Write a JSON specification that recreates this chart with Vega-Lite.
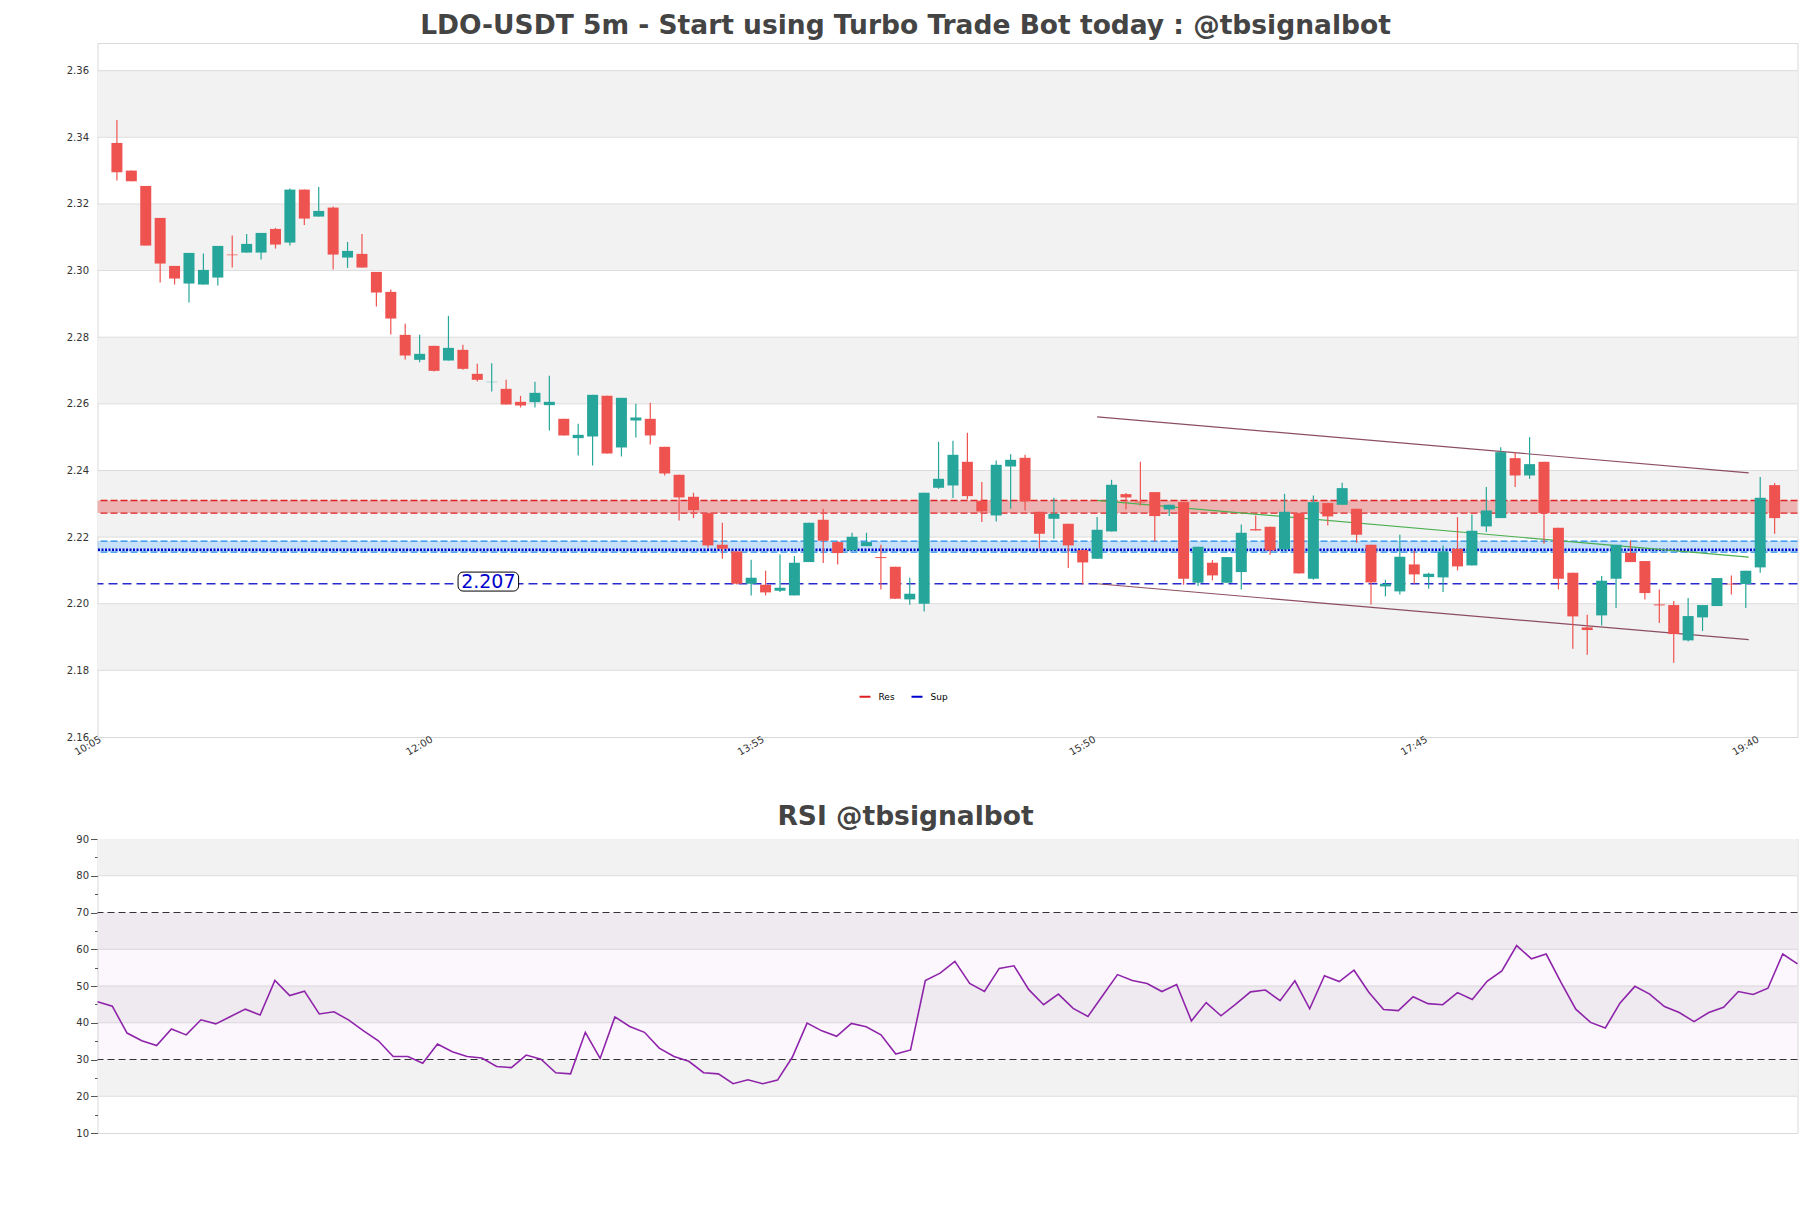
{
  "$schema": "https://vega.github.io/schema/vega-lite/v6.json",
  "background": "white",
  "padding": {"left": 65.5, "top": 12, "right": 10, "bottom": 10},
  "config": {
    "font": "DejaVu Sans",
    "view": {"stroke": "#d9d9d9"},
    "axis": {"labelFont": "DejaVu Sans", "labelFontSize": 10, "labelColor": "#333333", "labelOverlap": false}
  },
  "bounds": "flush",
  "spacing": 102,
  "resolve": {"scale": {"x": "independent", "y": "independent", "color": "independent"}},
  "datasets": {
    "candles": [
      {"t":"2024-01-01T10:10","o":2.3383,"h":2.3452,"l":2.3270,"c":2.3295},
      {"t":"2024-01-01T10:15","o":2.3300,"h":2.3300,"l":2.3268,"c":2.3268},
      {"t":"2024-01-01T10:20","o":2.3254,"h":2.3254,"l":2.3075,"c":2.3075},
      {"t":"2024-01-01T10:25","o":2.3158,"h":2.3158,"l":2.2964,"c":2.3021},
      {"t":"2024-01-01T10:30","o":2.3014,"h":2.3014,"l":2.2958,"c":2.2976},
      {"t":"2024-01-01T10:35","o":2.2961,"h":2.3053,"l":2.2904,"c":2.3053},
      {"t":"2024-01-01T10:40","o":2.2958,"h":2.3051,"l":2.2958,"c":2.3002},
      {"t":"2024-01-01T10:45","o":2.2979,"h":2.3074,"l":2.2955,"c":2.3074},
      {"t":"2024-01-01T10:50","o":2.3048,"h":2.3105,"l":2.3009,"c":2.3046},
      {"t":"2024-01-01T10:55","o":2.3054,"h":2.3110,"l":2.3054,"c":2.3080},
      {"t":"2024-01-01T11:00","o":2.3054,"h":2.3113,"l":2.3033,"c":2.3113},
      {"t":"2024-01-01T11:05","o":2.3125,"h":2.3128,"l":2.3066,"c":2.3078},
      {"t":"2024-01-01T11:10","o":2.3084,"h":2.3246,"l":2.3075,"c":2.3243},
      {"t":"2024-01-01T11:15","o":2.3243,"h":2.3243,"l":2.3137,"c":2.3156},
      {"t":"2024-01-01T11:20","o":2.3162,"h":2.3251,"l":2.3162,"c":2.3179},
      {"t":"2024-01-01T11:25","o":2.3189,"h":2.3192,"l":2.3003,"c":2.3048},
      {"t":"2024-01-01T11:30","o":2.3039,"h":2.3086,"l":2.3008,"c":2.3059},
      {"t":"2024-01-01T11:35","o":2.3050,"h":2.3110,"l":2.3009,"c":2.3009},
      {"t":"2024-01-01T11:40","o":2.2996,"h":2.2996,"l":2.2892,"c":2.2934},
      {"t":"2024-01-01T11:45","o":2.2936,"h":2.2943,"l":2.2808,"c":2.2856},
      {"t":"2024-01-01T11:50","o":2.2807,"h":2.2840,"l":2.2733,"c":2.2745},
      {"t":"2024-01-01T11:55","o":2.2732,"h":2.2807,"l":2.2725,"c":2.2750},
      {"t":"2024-01-01T12:00","o":2.2774,"h":2.2774,"l":2.2697,"c":2.2699},
      {"t":"2024-01-01T12:05","o":2.2730,"h":2.2864,"l":2.2730,"c":2.2768},
      {"t":"2024-01-01T12:10","o":2.2762,"h":2.2777,"l":2.2702,"c":2.2705},
      {"t":"2024-01-01T12:15","o":2.2690,"h":2.2720,"l":2.2667,"c":2.2672},
      {"t":"2024-01-01T12:20","o":2.2665,"h":2.2722,"l":2.2637,"c":2.2666},
      {"t":"2024-01-01T12:25","o":2.2645,"h":2.2672,"l":2.2598,"c":2.2598},
      {"t":"2024-01-01T12:30","o":2.2606,"h":2.2624,"l":2.2589,"c":2.2595},
      {"t":"2024-01-01T12:35","o":2.2605,"h":2.2666,"l":2.2589,"c":2.2633},
      {"t":"2024-01-01T12:40","o":2.2596,"h":2.2684,"l":2.2520,"c":2.2606},
      {"t":"2024-01-01T12:45","o":2.2555,"h":2.2555,"l":2.2505,"c":2.2505},
      {"t":"2024-01-01T12:50","o":2.2497,"h":2.2540,"l":2.2445,"c":2.2507},
      {"t":"2024-01-01T12:55","o":2.2502,"h":2.2627,"l":2.2415,"c":2.2627},
      {"t":"2024-01-01T13:00","o":2.2624,"h":2.2624,"l":2.2451,"c":2.2451},
      {"t":"2024-01-01T13:05","o":2.2469,"h":2.2618,"l":2.2442,"c":2.2618},
      {"t":"2024-01-01T13:10","o":2.2550,"h":2.2600,"l":2.2499,"c":2.2559},
      {"t":"2024-01-01T13:15","o":2.2555,"h":2.2603,"l":2.2478,"c":2.2505},
      {"t":"2024-01-01T13:20","o":2.2471,"h":2.2471,"l":2.2385,"c":2.2391},
      {"t":"2024-01-01T13:25","o":2.2387,"h":2.2387,"l":2.2250,"c":2.2319},
      {"t":"2024-01-01T13:30","o":2.2321,"h":2.2333,"l":2.2257,"c":2.2281},
      {"t":"2024-01-01T13:35","o":2.2272,"h":2.2272,"l":2.2168,"c":2.2175},
      {"t":"2024-01-01T13:40","o":2.2177,"h":2.2243,"l":2.2135,"c":2.2165},
      {"t":"2024-01-01T13:45","o":2.2157,"h":2.2157,"l":2.2058,"c":2.2060},
      {"t":"2024-01-01T13:50","o":2.2060,"h":2.2132,"l":2.2025,"c":2.2078},
      {"t":"2024-01-01T13:55","o":2.2057,"h":2.2099,"l":2.2025,"c":2.2034},
      {"t":"2024-01-01T14:00","o":2.2039,"h":2.2148,"l":2.2035,"c":2.2048},
      {"t":"2024-01-01T14:05","o":2.2025,"h":2.2143,"l":2.2025,"c":2.2123},
      {"t":"2024-01-01T14:10","o":2.2125,"h":2.2243,"l":2.2125,"c":2.2243},
      {"t":"2024-01-01T14:15","o":2.2252,"h":2.2285,"l":2.2122,"c":2.2189},
      {"t":"2024-01-01T14:20","o":2.2185,"h":2.2188,"l":2.2118,"c":2.2152},
      {"t":"2024-01-01T14:25","o":2.2160,"h":2.2213,"l":2.2160,"c":2.2201},
      {"t":"2024-01-01T14:30","o":2.2173,"h":2.2213,"l":2.2173,"c":2.2185},
      {"t":"2024-01-01T14:35","o":2.2140,"h":2.2177,"l":2.2043,"c":2.2137},
      {"t":"2024-01-01T14:40","o":2.2111,"h":2.2111,"l":2.2015,"c":2.2015},
      {"t":"2024-01-01T14:45","o":2.2013,"h":2.2078,"l":2.1997,"c":2.2030},
      {"t":"2024-01-01T14:50","o":2.2000,"h":2.2333,"l":2.1977,"c":2.2333},
      {"t":"2024-01-01T14:55","o":2.2348,"h":2.2486,"l":2.2345,"c":2.2375},
      {"t":"2024-01-01T15:00","o":2.2355,"h":2.2489,"l":2.2317,"c":2.2447},
      {"t":"2024-01-01T15:05","o":2.2426,"h":2.2513,"l":2.2313,"c":2.2323},
      {"t":"2024-01-01T15:10","o":2.2308,"h":2.2365,"l":2.2245,"c":2.2277},
      {"t":"2024-01-01T15:15","o":2.2265,"h":2.2430,"l":2.2247,"c":2.2417},
      {"t":"2024-01-01T15:20","o":2.2412,"h":2.2449,"l":2.2285,"c":2.2432},
      {"t":"2024-01-01T15:25","o":2.2438,"h":2.2447,"l":2.2280,"c":2.2307},
      {"t":"2024-01-01T15:30","o":2.2276,"h":2.2276,"l":2.2165,"c":2.2210},
      {"t":"2024-01-01T15:35","o":2.2255,"h":2.2318,"l":2.2195,"c":2.2270},
      {"t":"2024-01-01T15:40","o":2.2240,"h":2.2240,"l":2.2107,"c":2.2175},
      {"t":"2024-01-01T15:45","o":2.2161,"h":2.2161,"l":2.2057,"c":2.2124},
      {"t":"2024-01-01T15:50","o":2.2135,"h":2.2260,"l":2.2135,"c":2.2222},
      {"t":"2024-01-01T15:55","o":2.2217,"h":2.2372,"l":2.2217,"c":2.2357},
      {"t":"2024-01-01T16:00","o":2.2329,"h":2.2332,"l":2.2283,"c":2.2319},
      {"t":"2024-01-01T16:05","o":2.2306,"h":2.2426,"l":2.2295,"c":2.2304},
      {"t":"2024-01-01T16:10","o":2.2335,"h":2.2335,"l":2.2187,"c":2.2263},
      {"t":"2024-01-01T16:15","o":2.2283,"h":2.2297,"l":2.2263,"c":2.2297},
      {"t":"2024-01-01T16:20","o":2.2305,"h":2.2305,"l":2.2057,"c":2.2075},
      {"t":"2024-01-01T16:25","o":2.2063,"h":2.2171,"l":2.2053,"c":2.2171},
      {"t":"2024-01-01T16:30","o":2.2123,"h":2.2131,"l":2.2070,"c":2.2085},
      {"t":"2024-01-01T16:35","o":2.2063,"h":2.2140,"l":2.2063,"c":2.2140},
      {"t":"2024-01-01T16:40","o":2.2095,"h":2.2238,"l":2.2043,"c":2.2213},
      {"t":"2024-01-01T16:45","o":2.2224,"h":2.2265,"l":2.2220,"c":2.2220},
      {"t":"2024-01-01T16:50","o":2.2231,"h":2.2231,"l":2.2147,"c":2.2160},
      {"t":"2024-01-01T16:55","o":2.2163,"h":2.2330,"l":2.2163,"c":2.2276},
      {"t":"2024-01-01T17:00","o":2.2272,"h":2.2272,"l":2.2091,"c":2.2091},
      {"t":"2024-01-01T17:05","o":2.2075,"h":2.2325,"l":2.2072,"c":2.2305},
      {"t":"2024-01-01T17:10","o":2.2302,"h":2.2302,"l":2.2235,"c":2.2262},
      {"t":"2024-01-01T17:15","o":2.2297,"h":2.2363,"l":2.2297,"c":2.2347},
      {"t":"2024-01-01T17:20","o":2.2285,"h":2.2285,"l":2.2183,"c":2.2207},
      {"t":"2024-01-01T17:25","o":2.2177,"h":2.2177,"l":2.1998,"c":2.2064},
      {"t":"2024-01-01T17:30","o":2.2052,"h":2.2072,"l":2.2022,"c":2.2060},
      {"t":"2024-01-01T17:35","o":2.2037,"h":2.2207,"l":2.2028,"c":2.2141},
      {"t":"2024-01-01T17:40","o":2.2118,"h":2.2160,"l":2.2060,"c":2.2088},
      {"t":"2024-01-01T17:45","o":2.2080,"h":2.2093,"l":2.2045,"c":2.2090},
      {"t":"2024-01-01T17:50","o":2.2079,"h":2.2175,"l":2.2035,"c":2.2157},
      {"t":"2024-01-01T17:55","o":2.2165,"h":2.2260,"l":2.2100,"c":2.2112},
      {"t":"2024-01-01T18:00","o":2.2115,"h":2.2268,"l":2.2115,"c":2.2219},
      {"t":"2024-01-01T18:05","o":2.2232,"h":2.2350,"l":2.2215,"c":2.2280},
      {"t":"2024-01-01T18:10","o":2.2257,"h":2.2470,"l":2.2257,"c":2.2455},
      {"t":"2024-01-01T18:15","o":2.2437,"h":2.2455,"l":2.2350,"c":2.2385},
      {"t":"2024-01-01T18:20","o":2.2385,"h":2.2500,"l":2.2375,"c":2.2419},
      {"t":"2024-01-01T18:25","o":2.2426,"h":2.2426,"l":2.2180,"c":2.2272},
      {"t":"2024-01-01T18:30","o":2.2228,"h":2.2228,"l":2.2043,"c":2.2075},
      {"t":"2024-01-01T18:35","o":2.2093,"h":2.2093,"l":2.1865,"c":2.1962},
      {"t":"2024-01-01T18:40","o":2.1929,"h":2.1967,"l":2.1847,"c":2.1921},
      {"t":"2024-01-01T18:45","o":2.1965,"h":2.2083,"l":2.1935,"c":2.2069},
      {"t":"2024-01-01T18:50","o":2.2075,"h":2.2177,"l":2.1987,"c":2.2177},
      {"t":"2024-01-01T18:55","o":2.2153,"h":2.2190,"l":2.2125,"c":2.2125},
      {"t":"2024-01-01T19:00","o":2.2128,"h":2.2128,"l":2.2013,"c":2.2032},
      {"t":"2024-01-01T19:05","o":2.1998,"h":2.2043,"l":2.1942,"c":2.1995},
      {"t":"2024-01-01T19:10","o":2.1996,"h":2.2008,"l":2.1823,"c":2.1909},
      {"t":"2024-01-01T19:15","o":2.1890,"h":2.2017,"l":2.1887,"c":2.1963},
      {"t":"2024-01-01T19:20","o":2.1959,"h":2.1996,"l":2.1918,"c":2.1996},
      {"t":"2024-01-01T19:25","o":2.1993,"h":2.2077,"l":2.1993,"c":2.2077},
      {"t":"2024-01-01T19:30","o":2.2060,"h":2.2085,"l":2.2028,"c":2.2058},
      {"t":"2024-01-01T19:35","o":2.2059,"h":2.2099,"l":2.1987,"c":2.2099},
      {"t":"2024-01-01T19:40","o":2.2109,"h":2.2380,"l":2.2093,"c":2.2318},
      {"t":"2024-01-01T19:45","o":2.2356,"h":2.2362,"l":2.2210,"c":2.2257}
    ],
    "rsi": [
      {"t":"2024-01-01T10:10","r":45.7},{"t":"2024-01-01T10:15","r":44.5},{"t":"2024-01-01T10:20","r":37.2},{"t":"2024-01-01T10:25","r":35.1},
      {"t":"2024-01-01T10:30","r":33.8},{"t":"2024-01-01T10:35","r":38.3},{"t":"2024-01-01T10:40","r":36.7},{"t":"2024-01-01T10:45","r":40.8},
      {"t":"2024-01-01T10:50","r":39.7},{"t":"2024-01-01T10:55","r":41.7},{"t":"2024-01-01T11:00","r":43.7},{"t":"2024-01-01T11:05","r":42.1},
      {"t":"2024-01-01T11:10","r":51.5},{"t":"2024-01-01T11:15","r":47.4},{"t":"2024-01-01T11:20","r":48.6},{"t":"2024-01-01T11:25","r":42.4},
      {"t":"2024-01-01T11:30","r":43.0},{"t":"2024-01-01T11:35","r":40.7},{"t":"2024-01-01T11:40","r":37.8},{"t":"2024-01-01T11:45","r":35.1},
      {"t":"2024-01-01T11:50","r":30.8},{"t":"2024-01-01T11:55","r":30.8},{"t":"2024-01-01T12:00","r":29.0},{"t":"2024-01-01T12:05","r":34.2},
      {"t":"2024-01-01T12:10","r":32.1},{"t":"2024-01-01T12:15","r":30.8},{"t":"2024-01-01T12:20","r":30.4},{"t":"2024-01-01T12:25","r":28.1},
      {"t":"2024-01-01T12:30","r":27.8},{"t":"2024-01-01T12:35","r":31.2},{"t":"2024-01-01T12:40","r":30.1},{"t":"2024-01-01T12:45","r":26.4},
      {"t":"2024-01-01T12:50","r":26.1},{"t":"2024-01-01T12:55","r":37.4},{"t":"2024-01-01T13:00","r":30.3},{"t":"2024-01-01T13:05","r":41.6},
      {"t":"2024-01-01T13:10","r":39.0},{"t":"2024-01-01T13:15","r":37.4},{"t":"2024-01-01T13:20","r":33.1},{"t":"2024-01-01T13:25","r":30.8},
      {"t":"2024-01-01T13:30","r":29.5},{"t":"2024-01-01T13:35","r":26.4},{"t":"2024-01-01T13:40","r":26.1},{"t":"2024-01-01T13:45","r":23.4},
      {"t":"2024-01-01T13:50","r":24.5},{"t":"2024-01-01T13:55","r":23.4},{"t":"2024-01-01T14:00","r":24.4},{"t":"2024-01-01T14:05","r":30.6},
      {"t":"2024-01-01T14:10","r":39.9},{"t":"2024-01-01T14:15","r":37.8},{"t":"2024-01-01T14:20","r":36.3},{"t":"2024-01-01T14:25","r":39.8},
      {"t":"2024-01-01T14:30","r":38.9},{"t":"2024-01-01T14:35","r":36.7},{"t":"2024-01-01T14:40","r":31.5},{"t":"2024-01-01T14:45","r":32.6},
      {"t":"2024-01-01T14:50","r":51.5},{"t":"2024-01-01T14:55","r":53.5},{"t":"2024-01-01T15:00","r":56.7},{"t":"2024-01-01T15:05","r":50.7},
      {"t":"2024-01-01T15:10","r":48.5},{"t":"2024-01-01T15:15","r":54.8},{"t":"2024-01-01T15:20","r":55.5},{"t":"2024-01-01T15:25","r":49.0},
      {"t":"2024-01-01T15:30","r":44.9},{"t":"2024-01-01T15:35","r":47.8},{"t":"2024-01-01T15:40","r":43.9},{"t":"2024-01-01T15:45","r":41.7},
      {"t":"2024-01-01T15:50","r":47.4},{"t":"2024-01-01T15:55","r":53.1},{"t":"2024-01-01T16:00","r":51.5},{"t":"2024-01-01T16:05","r":50.7},
      {"t":"2024-01-01T16:10","r":48.5},{"t":"2024-01-01T16:15","r":50.4},{"t":"2024-01-01T16:20","r":40.5},{"t":"2024-01-01T16:25","r":45.5},
      {"t":"2024-01-01T16:30","r":41.9},{"t":"2024-01-01T16:35","r":45.1},{"t":"2024-01-01T16:40","r":48.4},{"t":"2024-01-01T16:45","r":48.9},
      {"t":"2024-01-01T16:50","r":46.0},{"t":"2024-01-01T16:55","r":51.4},{"t":"2024-01-01T17:00","r":43.8},{"t":"2024-01-01T17:05","r":52.8},
      {"t":"2024-01-01T17:10","r":51.2},{"t":"2024-01-01T17:15","r":54.3},{"t":"2024-01-01T17:20","r":48.3},{"t":"2024-01-01T17:25","r":43.6},
      {"t":"2024-01-01T17:30","r":43.3},{"t":"2024-01-01T17:35","r":47.1},{"t":"2024-01-01T17:40","r":45.2},{"t":"2024-01-01T17:45","r":44.9},
      {"t":"2024-01-01T17:50","r":48.2},{"t":"2024-01-01T17:55","r":46.3},{"t":"2024-01-01T18:00","r":51.3},{"t":"2024-01-01T18:05","r":54.1},
      {"t":"2024-01-01T18:10","r":61.0},{"t":"2024-01-01T18:15","r":57.4},{"t":"2024-01-01T18:20","r":58.7},{"t":"2024-01-01T18:25","r":51.0},
      {"t":"2024-01-01T18:30","r":43.7},{"t":"2024-01-01T18:35","r":40.1},{"t":"2024-01-01T18:40","r":38.6},{"t":"2024-01-01T18:45","r":45.4},
      {"t":"2024-01-01T18:50","r":49.9},{"t":"2024-01-01T18:55","r":47.8},{"t":"2024-01-01T19:00","r":44.4},{"t":"2024-01-01T19:05","r":42.8},
      {"t":"2024-01-01T19:10","r":40.3},{"t":"2024-01-01T19:15","r":42.8},{"t":"2024-01-01T19:20","r":44.2},{"t":"2024-01-01T19:25","r":48.5},
      {"t":"2024-01-01T19:30","r":47.7},{"t":"2024-01-01T19:35","r":49.4},{"t":"2024-01-01T19:40","r":58.7},{"t":"2024-01-01T19:45","r":56.0}
    ]
  },
  "vconcat": [
    {
      "width": 1700,
      "height": 694,
      "title": {"text": "LDO-USDT 5m - Start using Turbo Trade Bot today : @tbsignalbot", "font": "DejaVu Sans", "fontSize": 26.5, "fontWeight": "bold", "color": "#444444", "anchor": "middle", "frame": "group", "dx": -42, "offset": -17, "baseline": "alphabetic"},
      "layer": [
        {
          "data": {"values": [{"lo": 2.18, "hi": 2.2}, {"lo": 2.22, "hi": 2.24}, {"lo": 2.26, "hi": 2.28}, {"lo": 2.3, "hi": 2.32}, {"lo": 2.34, "hi": 2.36}]},
          "mark": {"type": "rect", "color": "#f2f2f2"},
          "encoding": {
            "y": {"field": "lo", "type": "quantitative", "scale": {"domain": [2.16, 2.3683], "nice": false, "zero": false},
                  "axis": {"values": [2.16, 2.18, 2.2, 2.22, 2.24, 2.26, 2.28, 2.3, 2.32, 2.34, 2.36], "tickCount": 30, "format": ".2f", "grid": false, "ticks": false, "domain": false, "title": null, "labelPadding": 9, "labelFontSize": 10, "labelColor": "#333333", "labelOverlap": false}},
            "y2": {"field": "hi"}
          }
        },
        {
          "data": {"values": [{"p": 2.18}, {"p": 2.2}, {"p": 2.22}, {"p": 2.24}, {"p": 2.26}, {"p": 2.28}, {"p": 2.3}, {"p": 2.32}, {"p": 2.34}, {"p": 2.36}]},
          "mark": {"type": "rule", "color": "#dddddd", "strokeWidth": 1},
          "encoding": {"y": {"field": "p", "type": "quantitative", "scale": {"domain": [2.16, 2.3683], "nice": false, "zero": false}}}
        },
        {
          "data": {"values": [{"kind": "Res", "lo": 2.2272, "hi": 2.2310}]},
          "layer": [
            {"mark": {"type": "rect", "color": "#e02020", "opacity": 0.3},
             "encoding": {"y": {"field": "lo", "type": "quantitative", "scale": {"domain": [2.16, 2.3683], "nice": false, "zero": false}}, "y2": {"field": "hi"}}},
            {"mark": {"type": "rule", "strokeDash": [7, 3], "strokeWidth": 1.4},
             "encoding": {"y": {"field": "lo", "type": "quantitative", "scale": {"domain": [2.16, 2.3683], "nice": false, "zero": false}},
                          "color": {"field": "kind", "type": "nominal", "scale": {"domain": ["Res", "Sup"], "range": ["#e02020", "#0000cd"]},
                                    "legend": {"orient": "none", "legendX": 761, "legendY": 647, "direction": "horizontal", "title": null, "symbolType": "stroke", "symbolSize": 121, "symbolStrokeWidth": 2, "symbolDash": [1, 0], "labelFontSize": 9, "labelColor": "#000000", "labelOffset": 7, "columnPadding": 12, "padding": 0}}}},
            {"mark": {"type": "rule", "strokeDash": [7, 3], "strokeWidth": 1.4},
             "encoding": {"y": {"field": "hi", "type": "quantitative", "scale": {"domain": [2.16, 2.3683], "nice": false, "zero": false}},
                          "color": {"field": "kind", "type": "nominal"}}}
          ]
        },
        {
          "data": {"values": [{"lo": 2.2155, "hi": 2.2188}]},
          "layer": [
            {"mark": {"type": "rect", "color": "#1e88e5", "opacity": 0.25},
             "encoding": {"y": {"field": "lo", "type": "quantitative", "scale": {"domain": [2.16, 2.3683], "nice": false, "zero": false}}, "y2": {"field": "hi"}}},
            {"mark": {"type": "rule", "color": "#1e88e5", "strokeDash": [7, 3], "strokeWidth": 1.4},
             "encoding": {"y": {"field": "lo", "type": "quantitative", "scale": {"domain": [2.16, 2.3683], "nice": false, "zero": false}}}},
            {"mark": {"type": "rule", "color": "#1e88e5", "strokeDash": [7, 3], "strokeWidth": 1.4},
             "encoding": {"y": {"field": "hi", "type": "quantitative", "scale": {"domain": [2.16, 2.3683], "nice": false, "zero": false}}}}
          ]
        },
        {
          "data": {"values": [{"kind": "Sup", "p": 2.2162}]},
          "mark": {"type": "rule", "strokeDash": [2, 1.5], "strokeWidth": 2.5},
          "encoding": {"y": {"field": "p", "type": "quantitative", "scale": {"domain": [2.16, 2.3683], "nice": false, "zero": false}},
                       "color": {"field": "kind", "type": "nominal"}}
        },
        {
          "data": {"values": [{"p": 2.2060}]},
          "mark": {"type": "rule", "color": "#2a2ad0", "strokeDash": [9, 5], "strokeWidth": 1.4},
          "encoding": {"y": {"field": "p", "type": "quantitative", "scale": {"domain": [2.16, 2.3683], "nice": false, "zero": false}}}
        },
        {
          "data": {"values": [{"line": "up", "t": "2024-01-01T15:50", "p": 2.2561}, {"line": "up", "t": "2024-01-01T19:36", "p": 2.2393}, {"line": "down", "t": "2024-01-01T15:50", "p": 2.2060}, {"line": "down", "t": "2024-01-01T19:36", "p": 2.1892}]},
          "mark": {"type": "line", "color": "#7f3b4f", "strokeWidth": 1.2, "opacity": 0.9},
          "encoding": {
            "x": {"field": "t", "type": "temporal", "scale": {"domain": [{"year": 2024, "month": 1, "date": 1, "hours": 10, "minutes": 5}, {"year": 2024, "month": 1, "date": 1, "hours": 19, "minutes": 51, "seconds": 12}], "nice": false}},
            "y": {"field": "p", "type": "quantitative", "scale": {"domain": [2.16, 2.3683], "nice": false, "zero": false}},
            "detail": {"field": "line"}
          }
        },
        {
          "data": {"values": [{"t": "2024-01-01T15:50", "p": 2.2310}, {"t": "2024-01-01T19:36", "p": 2.2140}]},
          "mark": {"type": "line", "color": "#4caf50", "strokeWidth": 1.2},
          "encoding": {
            "x": {"field": "t", "type": "temporal"},
            "y": {"field": "p", "type": "quantitative", "scale": {"domain": [2.16, 2.3683], "nice": false, "zero": false}}
          }
        },
        {
          "data": {"name": "candles"},
          "mark": {"type": "rule", "strokeWidth": 1.2},
          "encoding": {
            "x": {"field": "t", "type": "temporal",
                  "scale": {"domain": [{"year": 2024, "month": 1, "date": 1, "hours": 10, "minutes": 5}, {"year": 2024, "month": 1, "date": 1, "hours": 19, "minutes": 51, "seconds": 12}], "nice": false},
                  "axis": {"values": [{"year": 2024, "month": 1, "date": 1, "hours": 10, "minutes": 5}, {"year": 2024, "month": 1, "date": 1, "hours": 12, "minutes": 0}, {"year": 2024, "month": 1, "date": 1, "hours": 13, "minutes": 55}, {"year": 2024, "month": 1, "date": 1, "hours": 15, "minutes": 50}, {"year": 2024, "month": 1, "date": 1, "hours": 17, "minutes": 45}, {"year": 2024, "month": 1, "date": 1, "hours": 19, "minutes": 40}],
                           "tickCount": 30, "format": "%H:%M", "labelAngle": -30, "labelAlign": "right", "labelBaseline": "top", "labelPadding": -3, "labelOffset": -5, "labelOverlap": false, "ticks": false, "domain": false, "grid": false, "title": null, "labelFontSize": 10, "labelColor": "#333333"}},
            "y": {"field": "l", "type": "quantitative", "scale": {"domain": [2.16, 2.3683], "nice": false, "zero": false}},
            "y2": {"field": "h"},
            "color": {"condition": {"test": "datum.c >= datum.o", "value": "#26a69a"}, "value": "#ef5350"}
          }
        },
        {
          "data": {"name": "candles"},
          "mark": {"type": "bar", "size": 11},
          "encoding": {
            "x": {"field": "t", "type": "temporal"},
            "y": {"field": "o", "type": "quantitative", "scale": {"domain": [2.16, 2.3683], "nice": false, "zero": false}},
            "y2": {"field": "c"},
            "color": {"condition": {"test": "datum.c >= datum.o", "value": "#26a69a"}, "value": "#ef5350"}
          }
        },
        {
          "data": {"values": [{"t1": "2024-01-01T12:08:20", "t2": "2024-01-01T12:29:20", "lo": 2.2038, "hi": 2.2095}]},
          "mark": {"type": "rect", "fill": "white", "stroke": "black", "strokeWidth": 1, "cornerRadius": 5},
          "encoding": {
            "x": {"field": "t1", "type": "temporal"},
            "x2": {"field": "t2"},
            "y": {"field": "lo", "type": "quantitative", "scale": {"domain": [2.16, 2.3683], "nice": false, "zero": false}},
            "y2": {"field": "hi"}
          }
        },
        {
          "data": {"values": [{"t": "2024-01-01T12:18:50", "p": 2.2066, "label": "2.207"}]},
          "mark": {"type": "text", "fontSize": 19, "color": "#0000cc", "align": "center", "baseline": "middle", "font": "DejaVu Sans"},
          "encoding": {
            "x": {"field": "t", "type": "temporal"},
            "y": {"field": "p", "type": "quantitative", "scale": {"domain": [2.16, 2.3683], "nice": false, "zero": false}},
            "text": {"field": "label"}
          }
        }
      ]
    },
    {
      "width": 1700,
      "height": 294,
      "title": {"text": "RSI @tbsignalbot", "font": "DejaVu Sans", "fontSize": 26.5, "fontWeight": "bold", "color": "#444444", "anchor": "middle", "frame": "group", "dx": -42, "offset": -17, "baseline": "alphabetic"},
      "layer": [
        {
          "data": {"values": [{"lo": 20, "hi": 30}, {"lo": 40, "hi": 50}, {"lo": 60, "hi": 70}, {"lo": 80, "hi": 90}]},
          "mark": {"type": "rect", "color": "#f2f2f2"},
          "encoding": {
            "y": {"field": "lo", "type": "quantitative", "scale": {"domain": [10, 90], "nice": false, "zero": false},
                  "axis": {"values": [10, 15, 20, 25, 30, 35, 40, 45, 50, 55, 60, 65, 70, 75, 80, 85, 90],
                           "tickCount": 40,
                           "labelExpr": "datum.value % 10 === 0 ? datum.label : ''",
                           "tickSize": {"condition": {"test": "datum.value % 10 !== 0", "value": 3}, "value": 7},
                           "format": "d", "grid": false, "ticks": true, "tickColor": "#555555", "domain": false, "title": null, "labelPadding": 2, "labelFontSize": 10, "labelColor": "#333333", "labelOverlap": false}},
            "y2": {"field": "hi"}
          }
        },
        {
          "data": {"values": [{"v": 20}, {"v": 40}, {"v": 50}, {"v": 60}, {"v": 80}]},
          "mark": {"type": "rule", "color": "#dddddd", "strokeWidth": 1},
          "encoding": {"y": {"field": "v", "type": "quantitative", "scale": {"domain": [10, 90], "nice": false, "zero": false}}}
        },
        {
          "data": {"values": [{"lo": 30, "hi": 70}]},
          "mark": {"type": "rect", "color": "#9c27b0", "opacity": 0.035},
          "encoding": {"y": {"field": "lo", "type": "quantitative", "scale": {"domain": [10, 90], "nice": false, "zero": false}}, "y2": {"field": "hi"}}
        },
        {
          "data": {"values": [{"v": 30}, {"v": 70}]},
          "mark": {"type": "rule", "color": "#333333", "strokeDash": [7, 4], "strokeWidth": 1.2},
          "encoding": {"y": {"field": "v", "type": "quantitative", "scale": {"domain": [10, 90], "nice": false, "zero": false}}}
        },
        {
          "data": {"name": "rsi"},
          "mark": {"type": "line", "color": "#8e24aa", "strokeWidth": 1.6},
          "encoding": {
            "x": {"field": "t", "type": "temporal", "axis": null,
                  "scale": {"domain": [{"year": 2024, "month": 1, "date": 1, "hours": 10, "minutes": 10}, {"year": 2024, "month": 1, "date": 1, "hours": 19, "minutes": 45}], "nice": false}},
            "y": {"field": "r", "type": "quantitative", "scale": {"domain": [10, 90], "nice": false, "zero": false}}
          }
        }
      ]
    }
  ]
}
